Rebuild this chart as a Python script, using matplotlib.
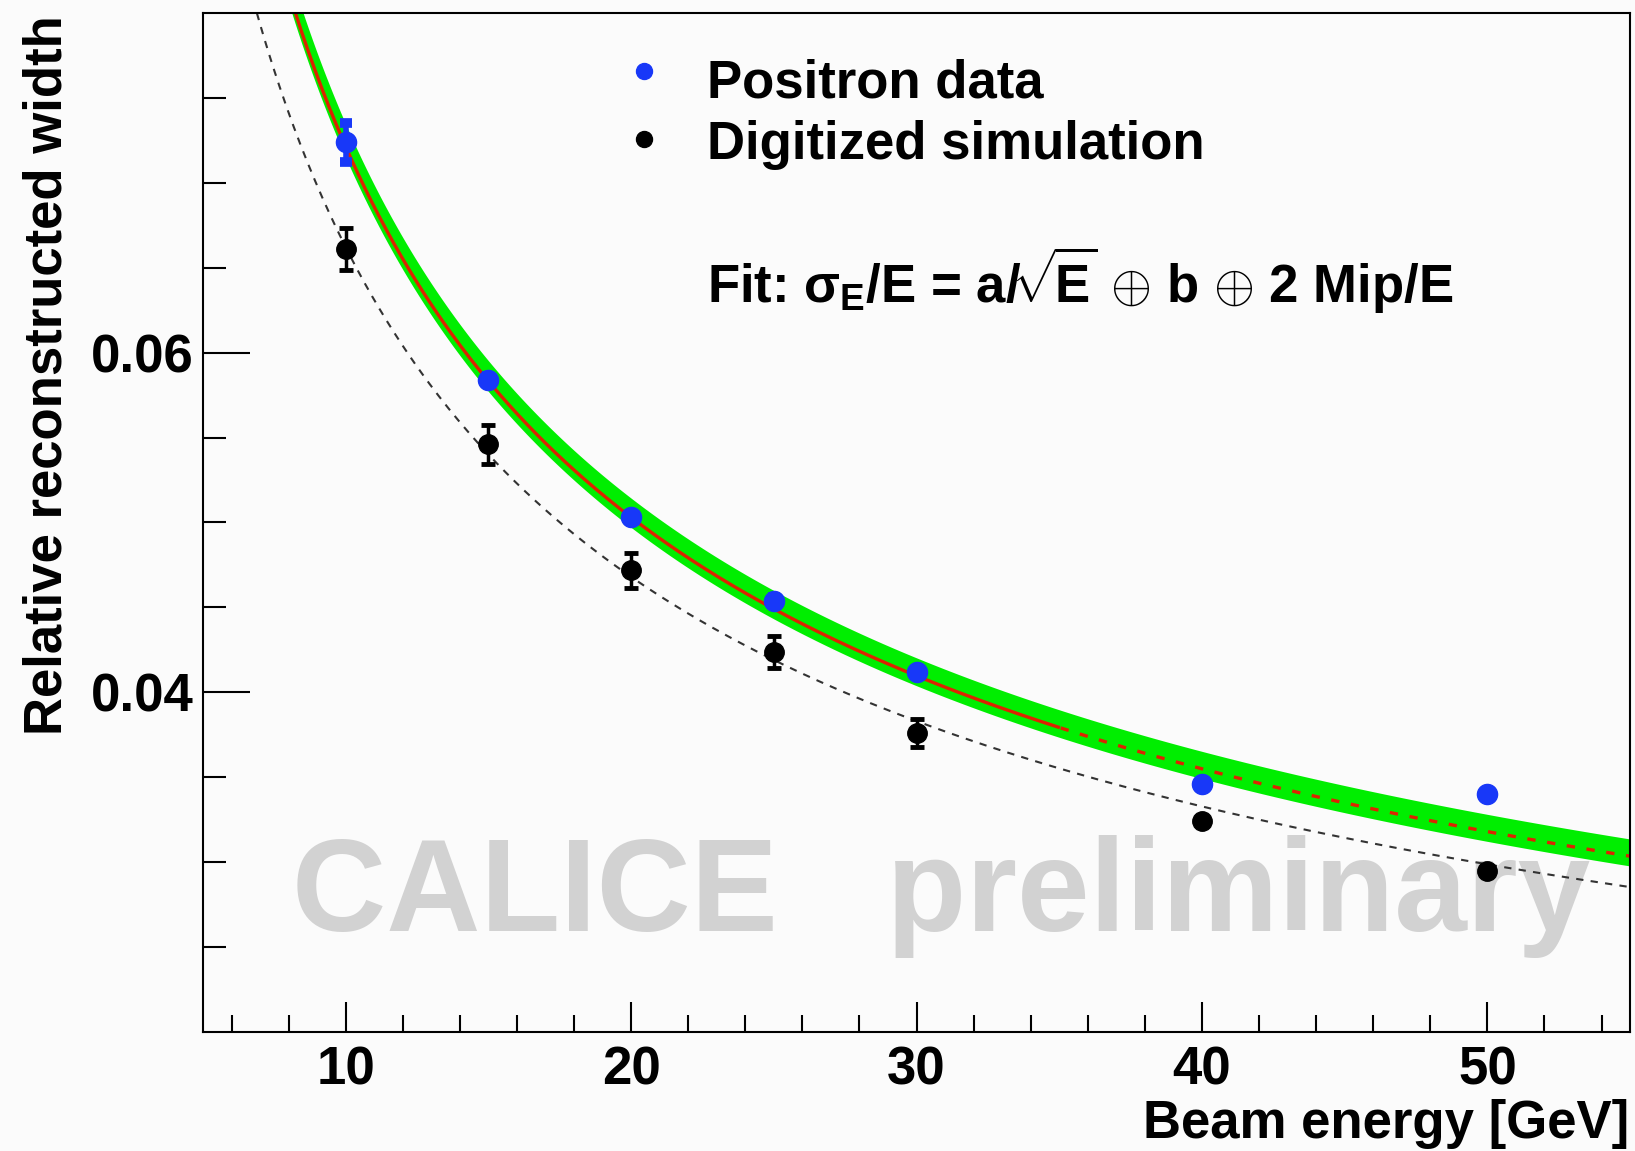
import numpy as np
import matplotlib.pyplot as plt
from matplotlib.lines import Line2D

plt.rcParams['font.family'] = ['Liberation Sans', 'DejaVu Sans']
plt.rcParams['font.weight'] = 'bold'
plt.rcParams['mathtext.fontset'] = 'custom'
plt.rcParams['mathtext.rm'] = 'Liberation Sans:bold'
plt.rcParams['mathtext.it'] = 'Liberation Sans:bold'
plt.rcParams['mathtext.bf'] = 'Liberation Sans:bold'

# beam energies [GeV]
energy = [10, 15, 20, 25, 30, 40, 50]

# positron data
data_width = [0.0724, 0.0584, 0.0503, 0.0454, 0.0412, 0.0346, 0.0340]
data_err = [0.00115, 0.0002, 0.0002, 0.0002, 0.0002, 0.0002, 0.0002]

# digitized simulation
sim_width = [0.0661, 0.0546, 0.0472, 0.0424, 0.0376, 0.0324, 0.0295]
sim_err = [0.00125, 0.00115, 0.00103, 0.00094, 0.00081, 0.0002, 0.0002]

# fit parameters (a, b, c)
fit_data = (0.2195, 0.0058, 0.187)
fit_data_up = (0.2233, 0.0080, 0.187)
band_low = 0.0006
fit_sim = (0.2067, 0.0059, 0.0868)
fit_range_end = 35

blue = '#1838f8'
red = '#dc2400'
green = '#00ee00'


def reso(e, a, b, c):
    # a/sqrt(E) (+) b (+) c/E
    return np.sqrt(a**2 / e + b**2 + (c / e)**2)


fig = plt.figure(figsize=(16.35, 11.51), dpi=100, facecolor='#fbfbfb')
ax = fig.add_axes([0.1242, 0.1034, 0.8728, 0.8853])
ax.set_facecolor('#fbfbfb')

e = np.linspace(5, 55, 600)
f_data = reso(e, *fit_data)

ax.fill_between(e, f_data - band_low, reso(e, *fit_data_up), color=green, lw=0, zorder=1)
solid = e <= fit_range_end
ax.plot(e[solid], f_data[solid], color=red, lw=2.4, zorder=2)
ax.plot(e[~solid], f_data[~solid], color=red, lw=2.4, dashes=(2.5, 3.5), zorder=2)
ax.plot(e, reso(e, *fit_sim), color='#333333', lw=1.5, dashes=(3.5, 3.5), zorder=2)

ax.errorbar(energy, sim_width, yerr=sim_err, fmt='o', color='black', ms=14,
            elinewidth=2.5, capsize=4.7, capthick=3.5, zorder=3)
ax.errorbar(energy, data_width, yerr=data_err, fmt='o', color=blue, ms=14.5,
            elinewidth=4, capsize=4.5, capthick=7, zorder=4)

ax.set_xlim(5, 55)
ax.set_ylim(0.02, 0.08)
ax.set_xticks([10, 20, 30, 40, 50])
ax.set_xticks([x for x in range(6, 55, 2) if x % 10 != 0], minor=True)
ax.set_yticks([0.04, 0.06])
ax.set_yticks([y for y in np.arange(0.025, 0.0799, 0.005) if abs(y - 0.04) > 1e-6 and abs(y - 0.06) > 1e-6], minor=True)
ax.set_yticklabels(['0.04', '0.06'])

ax.tick_params(axis='both', which='both', direction='in', top=False, right=False,
               width=1.5, labelsize=38, colors='black')
ax.tick_params(axis='y', which='major', length=34, pad=7)
ax.tick_params(axis='y', which='minor', length=16.5)
ax.tick_params(axis='x', which='major', length=21.5, pad=10)
ax.tick_params(axis='x', which='minor', length=12)
for s in ax.spines.values():
    s.set_linewidth(1.5)

# watermark
ax.text(292 / 1635, 1 - 931 / 1151, 'CALICE   preliminary', transform=fig.transFigure,
        fontsize=94, color='#d2d2d2', weight='bold', va='baseline', zorder=0.5)

# axis titles
fig.text(0.9963, 0.0115, 'Beam energy [GeV]', ha='right', va='baseline', fontsize=38)
fig.text(0.0379, 0.9864, 'Relative reconstructed width', rotation=90, rotation_mode='anchor',
         ha='right', va='baseline', fontsize=38)

# legend
fig.add_artist(Line2D([644 / 1635], [1 - 71 / 1151], transform=fig.transFigure,
                      marker='o', ms=11.5, color=blue, ls='none'))
fig.add_artist(Line2D([644 / 1635], [1 - 139 / 1151], transform=fig.transFigure,
                      marker='o', ms=11.5, color='black', ls='none'))
fig.text(707 / 1635, 1 - 97 / 1151, 'Positron data', va='baseline', fontsize=38)
fig.text(707 / 1635, 1 - 158.5 / 1151, 'Digitized simulation', va='baseline', fontsize=38)
fig.text(707 / 1635, 1 - 303.5 / 1151,
         r'Fit: $\sigma_{E}$/E = a/$\!\sqrt{\!E}$ $\oplus$ b $\oplus$ 2 Mip/E',
         va='baseline', fontsize=38)

fig.savefig('out.png', dpi=100, facecolor=fig.get_facecolor())
